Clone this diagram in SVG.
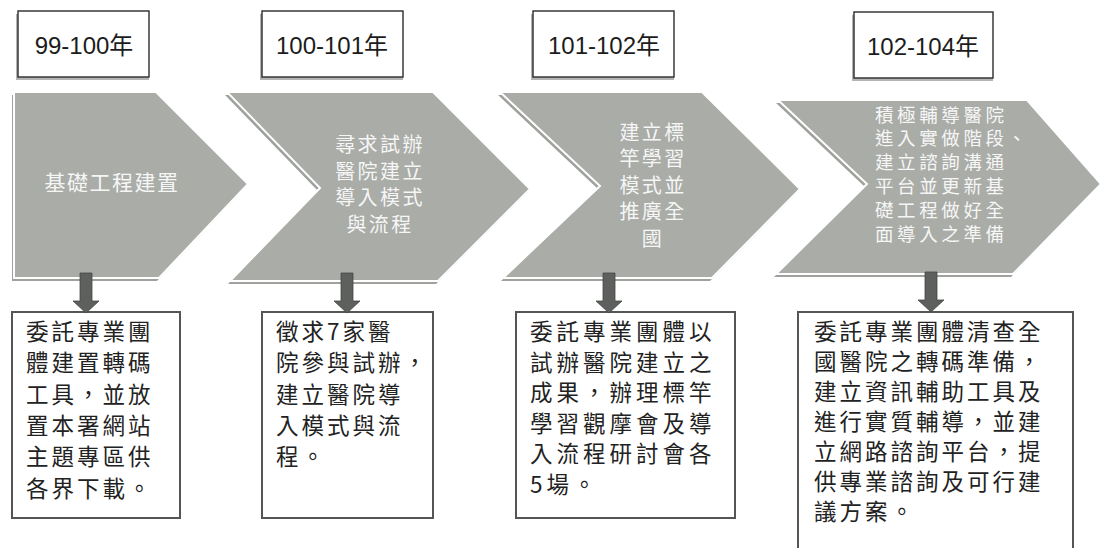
<svg xmlns="http://www.w3.org/2000/svg" width="1101" height="548" viewBox="0 0 1101 548">
<style>
.hdr{fill:#fff;stroke:#2b2b2b;stroke-width:1.4}
.hsh{fill:#b4b4b4}
.hdt{font-family:"Liberation Sans","Noto Sans CJK TC",sans-serif;font-size:24px;fill:#1c1c1c;text-anchor:middle}
.chv{fill:#a9aca7;stroke:#ffffff;stroke-width:2}
.csh{fill:#9ea19c}
.ct{font-family:"Noto Sans CJK TC",sans-serif;font-size:20px;fill:#f6f6f6;letter-spacing:2.4px}
.box{fill:#fff;stroke:#555;stroke-width:2}
.bt{font-family:"Noto Sans CJK TC",sans-serif;font-size:22.5px;fill:#222;letter-spacing:3px}
.arr{fill:#5d605c;stroke:#444744;stroke-width:0.8}
</style>
<rect width="1101" height="548" fill="#fff"/>

<g id="header-1">
<rect class="hsh" x="16" y="14" width="133" height="66"/>
<rect class="hdr" x="18" y="11" width="131" height="66"/>
<text class="hdt" x="84" y="54">99-100年</text>
</g>
<g id="header-2">
<rect class="hsh" x="260" y="14" width="143" height="66"/>
<rect class="hdr" x="262" y="11" width="141" height="66"/>
<text class="hdt" x="332" y="54">100-101年</text>
</g>
<g id="header-3">
<rect class="hsh" x="531" y="14" width="143" height="66"/>
<rect class="hdr" x="533" y="11" width="141" height="66"/>
<text class="hdt" x="604" y="54">101-102年</text>
</g>
<g id="header-4">
<rect class="hsh" x="852" y="15" width="141" height="66"/>
<rect class="hdr" x="854" y="12" width="139" height="66"/>
<text class="hdt" x="923" y="55">102-104年</text>
</g>

<g id="stage-1">
<polygon class="csh" points="12,95 154,95 246,187 157,281 12,281"/>
<polygon class="chv" points="14,92 156,92 248,184 159,278 14,278"/>
<text class="ct" x="112" y="190" text-anchor="middle" style="font-size:21px;letter-spacing:1.5px">基礎工程建置</text>
</g>
<g id="stage-2">
<polygon class="csh" points="225,95 431,95 528,192 436,284 228,284 318,191"/>
<polygon class="chv" points="227,92 433,92 530,189 438,281 230,281 320,188"/>
<text class="ct" text-anchor="middle"><tspan x="380" y="152">尋求試辦</tspan><tspan x="380" y="178.5">醫院建立</tspan><tspan x="380" y="205">導入模式</tspan><tspan x="380" y="231.5">與流程</tspan></text>
</g>
<g id="stage-3">
<polygon class="csh" points="498,95 700,95 798,192 710,281 501,281 598,189"/>
<polygon class="chv" points="500,92 702,92 800,189 712,278 503,278 600,186"/>
<text class="ct" text-anchor="middle"><tspan x="653" y="139.5">建立標</tspan><tspan x="653" y="166">竿學習</tspan><tspan x="653" y="192.5">模式並</tspan><tspan x="653" y="219">推廣全</tspan><tspan x="653" y="245.5">國</tspan></text>
</g>
<g id="stage-4">
<polygon class="csh" points="776,103 1025,103 1098,187 1011,277 774,277 865,187"/>
<polygon class="chv" points="778,100 1027,100 1101,184 1013,274 776,274 867,184"/>
<text class="ct" style="font-size:18.5px;letter-spacing:3.6px"><tspan x="875" y="121.5">積極輔導醫院</tspan><tspan x="875" y="145.3">進入實做階段、</tspan><tspan x="875" y="169.1">建立諮詢溝通</tspan><tspan x="875" y="192.9">平台並更新基</tspan><tspan x="875" y="216.7">礎工程做好全</tspan><tspan x="875" y="240.5">面導入之準備</tspan></text>
</g>

<g id="box-1">
<rect class="box" x="12" y="312" width="168" height="206"/>
<text class="bt"><tspan x="26" y="340">委託專業團</tspan><tspan x="26" y="371.3">體建置轉碼</tspan><tspan x="26" y="402.6">工具，並放</tspan><tspan x="26" y="433.9">置本署網站</tspan><tspan x="26" y="465.2">主題專區供</tspan><tspan x="26" y="496.5">各界下載。</tspan></text>
</g>
<g id="box-2">
<rect class="box" x="262" y="312" width="171" height="206"/>
<text class="bt"><tspan x="276" y="340">徵求7家醫</tspan><tspan x="276" y="371.3">院參與試辦，</tspan><tspan x="276" y="402.6">建立醫院導</tspan><tspan x="276" y="433.9">入模式與流</tspan><tspan x="276" y="465.2">程。</tspan></text>
</g>
<g id="box-3">
<rect class="box" x="516" y="312" width="219" height="206"/>
<text class="bt" style="letter-spacing:4px"><tspan x="530" y="340">委託專業團體以</tspan><tspan x="530" y="370.5">試辦醫院建立之</tspan><tspan x="530" y="401">成果，辦理標竿</tspan><tspan x="530" y="431.5">學習觀摩會及導</tspan><tspan x="530" y="462">入流程研討會各</tspan><tspan x="530" y="492.5">5場。</tspan></text>
</g>
<g id="box-4">
<rect class="box" x="798" y="312" width="275" height="260"/>
<text class="bt"><tspan x="814" y="340">委託專業團體清查全</tspan><tspan x="814" y="370">國醫院之轉碼準備，</tspan><tspan x="814" y="400">建立資訊輔助工具及</tspan><tspan x="814" y="430">進行實質輔導，並建</tspan><tspan x="814" y="460">立網路諮詢平台，提</tspan><tspan x="814" y="490">供專業諮詢及可行建</tspan><tspan x="814" y="520">議方案。</tspan></text>
</g>

<g id="connectors">
<polygon class="arr" points="80,273 92,273 92,301 99,301 86,313 73,301 80,301"/>
<polygon class="arr" points="341,273 353,273 353,301 360,301 347,313 334,301 341,301"/>
<polygon class="arr" points="603,273 615,273 615,301 622,301 609,313 596,301 603,301"/>
<polygon class="arr" points="925,272 937,272 937,300 944,300 931,312 918,300 925,300"/>
</g>
</svg>
